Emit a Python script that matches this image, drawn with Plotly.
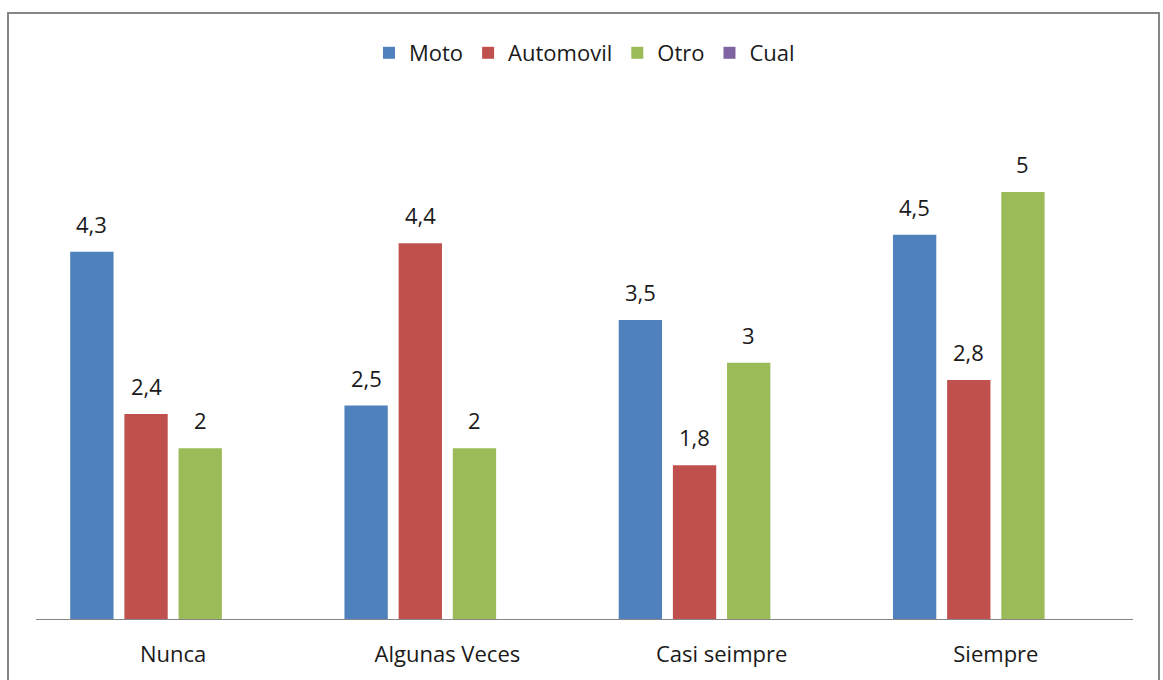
import plotly.graph_objects as go

categories = ["Nunca", "Algunas Veces", "Casi seimpre", "Siempre"]
moto = [4.3, 2.5, 3.5, 4.5]
automovil = [2.4, 4.4, 1.8, 2.8]
otro = [2, 2, 3, 5]
cual = [None, None, None, None]

series = [
    ("Moto", moto, "#4F81BD"),
    ("Automovil", automovil, "#C0504D"),
    ("Otro", otro, "#9BBB59"),
    ("Cual", cual, "#8064A2"),
]

FONT = "Open Sans, Calibri, sans-serif"
FS = 22

W, H = 1163, 680
ML, MR, MT, MB = 36, 30, 107, 61
plot_w = W - ML - MR
plot_h = H - MT - MB
BARGAP = 0.21
slot_px = plot_w / len(categories) * (1 - BARGAP) / len(series)


def fmt(v):
    return f"{v:g}".replace(".", ",")


fig = go.Figure()
for name, vals, color in series:
    fig.add_trace(go.Bar(name=name, x=categories, y=vals, marker=dict(color=color, line=dict(width=0))))

# value labels above each bar
annotations = []
for i, (name, vals, color) in enumerate(series):
    for cat, v in zip(categories, vals):
        if v is None:
            continue
        annotations.append(dict(
            x=cat, y=v, xref="x", yref="y", text=fmt(v), showarrow=False,
            yanchor="bottom", yshift=11,
            xshift=(i - (len(series) - 1) / 2) * slot_px,
            font=dict(family=FONT, size=FS, color="#1a1a1a"),
        ))

fig.update_layout(
    width=W, height=H,
    margin=dict(l=ML, r=MR, t=MT, b=MB),
    paper_bgcolor="white", plot_bgcolor="white",
    barmode="group", bargap=BARGAP, bargroupgap=0.2,
    font=dict(family=FONT, size=FS, color="#1a1a1a"),
    showlegend=True,
    legend=dict(orientation="h", x=0.5, xanchor="center", y=(H - MB - 53) / plot_h, yanchor="middle",
                font=dict(family=FONT, size=FS, color="#1a1a1a"), itemwidth=30, traceorder="normal",
                bgcolor="rgba(0,0,0,0)"),
    xaxis=dict(showline=True, linecolor="#868686", linewidth=1, ticks="", showgrid=False,
               tickfont=dict(family=FONT, size=FS, color="#1a1a1a"), ticklabelstandoff=16),
    yaxis=dict(visible=False, range=[0, plot_h / 85.4], showgrid=False, zeroline=False),
    annotations=annotations,
    shapes=[dict(type="rect", xref="paper", yref="paper",
                 x0=(8 - ML) / plot_w, x1=(1159 - ML) / plot_w,
                 y0=-0.3, y1=(H - MB - 13) / plot_h,
                 line=dict(color="#868686", width=2), fillcolor="rgba(0,0,0,0)", layer="below")],
)

fig.write_html("out.html")
